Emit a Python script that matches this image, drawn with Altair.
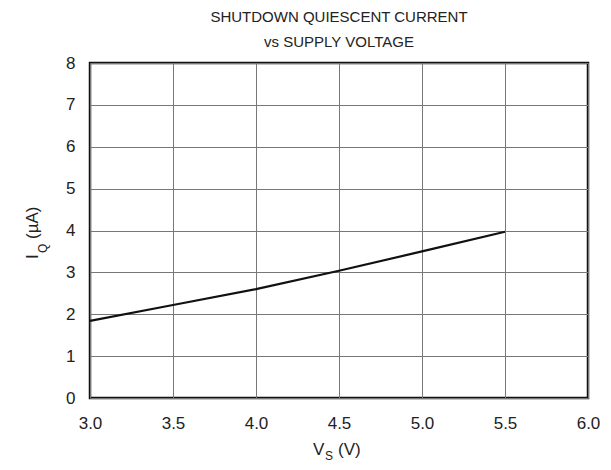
import altair as alt
import pandas as pd

vs = [3.0, 3.5, 4.0, 4.5, 5.0, 5.5]
iq = [1.84, 2.22, 2.60, 3.04, 3.50, 3.97]
x_ticks = [3.0, 3.5, 4.0, 4.5, 5.0, 5.5, 6.0]
y_ticks = [0, 1, 2, 3, 4, 5, 6, 7, 8]
title_lines = ["SHUTDOWN QUIESCENT CURRENT", "vs SUPPLY VOLTAGE"]

df = pd.DataFrame({"vs": vs, "iq": iq})

W, H = 498, 335
FONT = "Liberation Sans"

line = alt.Chart(df).mark_line(color="#111111", strokeWidth=2.2).encode(
    x=alt.X("vs:Q", scale=alt.Scale(domain=[3, 6], nice=False),
            axis=alt.Axis(values=x_ticks, format=".1f", title=None, labelPadding=17)),
    y=alt.Y("iq:Q", scale=alt.Scale(domain=[0, 8], nice=False),
            axis=alt.Axis(values=y_ticks, format="d", title=None, labelPadding=15)),
)

def txt(s, x, y, size, angle=0, align="left", baseline="alphabetic"):
    return alt.Chart(pd.DataFrame({"t": [s]})).mark_text(
        font=FONT, fontSize=size, color="#222222", align=align,
        baseline=baseline, angle=angle
    ).encode(text="t:N", x=alt.value(x), y=alt.value(y))

# x axis title: V_S (V)
xt = [
    txt("V", 223, 392, 17),
    txt("S", 235, 397, 12),
    txt("(V)", 248, 392, 17),
]
# y axis title: I_Q (µA), rotated
yt = [
    txt("I", -52, 196, 17, angle=270),
    txt("Q", -43, 190, 12, angle=270),
    txt("(µA)", -52, 176, 17, angle=270),
]

chart = alt.layer(line, *xt, *yt).properties(
    width=W, height=H,
    title=alt.TitleParams(text=title_lines, font=FONT, fontSize=15,
                          fontWeight="normal", color="#222222",
                          anchor="middle", offset=4, lineHeight=25),
    autosize=alt.AutoSizeParams(type="none"),
    padding={"left": 82, "top": 55, "right": 14, "bottom": 64},
).configure_view(
    stroke="#111111", strokeWidth=2.5
).configure_axis(
    grid=True, gridColor="#777777", gridWidth=1, gridOpacity=1,
    domain=False, ticks=False, labelFlush=False,
    labelFont=FONT, labelFontSize=17, labelColor="#222222",
)

chart.save("out.html", embed_options={"renderer": "svg", "actions": False})
